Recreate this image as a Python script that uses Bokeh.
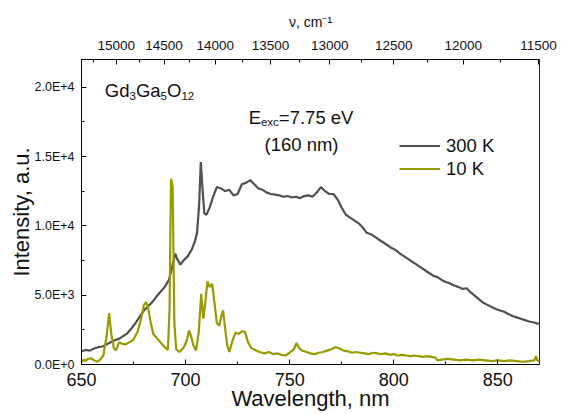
from bokeh.plotting import figure
from bokeh.models import (ColumnDataSource, LinearAxis, FixedTicker, CustomJSTickFormatter,
                          Label, Legend, LegendItem, Range1d)
from bokeh.embed import file_html
from bokeh.resources import INLINE

# ---------------- data ----------------
wl_300 = [650, 652, 654, 656, 658, 660, 662, 664, 666, 668, 670, 672, 674, 676, 678, 680,
          682, 684, 686, 688, 690, 692, 693.5, 695, 696, 697.5, 699, 701, 703, 704.5, 705.5,
          706.5, 707.3, 708.2, 709, 710, 711.5, 713, 715, 717, 719, 721, 723, 725, 727, 729,
          731, 733, 735, 737, 739, 741, 743, 745, 747, 749, 751, 753, 755, 757, 759, 761, 763,
          765, 767, 769, 771, 773, 775, 777, 779, 781, 783, 785, 787, 789, 791, 793, 795, 797,
          799, 801, 803, 805, 807, 809, 811, 813, 815, 817, 819, 821, 823, 825, 827, 829, 831,
          833, 835, 837, 839, 841, 843, 845, 847, 849, 851, 853, 855, 857, 859, 861, 863, 865,
          867, 869, 870]
int_300 = [950, 1050, 1000, 1150, 1250, 1300, 1450, 1600, 1750, 1850, 2050, 2250, 2600, 3000,
           3450, 3900, 4200, 4500, 4900, 5250, 5600, 6100, 7000, 8000, 7600, 7200, 7500, 7800,
           8300, 8900, 9500, 11500, 14600, 12500, 10900, 10800, 11300, 12000, 12800, 12700,
           12500, 12600, 12200, 12300, 13000, 13100, 13300, 13000, 12700, 12600, 12400, 12300,
           12250, 12200, 12100, 12150, 12050, 12100, 12000, 12150, 12200, 12100, 12400, 12800,
           12500, 12300, 12300, 11900, 11300, 10800, 10600, 10400, 10200, 9900, 9500, 9400,
           9200, 9000, 8800, 8600, 8400, 8250, 8000, 7800, 7600, 7400, 7200, 7000, 6800, 6600,
           6400, 6300, 6100, 5950, 5850, 5700, 5600, 5450, 5500, 5200, 4950, 4700, 4450, 4300,
           4150, 4000, 3900, 3800, 3650, 3500, 3400, 3300, 3200, 3100, 3050, 2950, 2950]

wl_10 = [650, 651, 652, 653, 654.5, 656, 657.7, 659, 660.5, 662, 663.3, 664.3, 665.5, 666.5,
         668, 669.5, 671, 673, 675, 677, 678.5, 680, 681, 682, 683, 684.5, 686.5, 688.5, 690,
         691.5, 692.3, 693, 693.8, 694.6, 695.5, 697, 699, 700.5, 701.7, 702.7, 703.7, 705,
         706.3, 707.5, 708.5, 709.5, 710.5, 711.5, 712.8, 714, 715, 716.2, 717.2, 718, 719,
         720, 721, 722.5, 724, 725.5, 727, 728.5, 730, 731.5, 733.5, 735.5, 738, 740, 742, 744,
         746, 748, 750, 752, 753.3, 754.5, 756, 758, 760, 762, 764, 766, 768, 770, 772, 774,
         776, 778, 780, 782, 784, 786, 788, 790, 792, 794, 796, 798, 800, 802, 804, 806, 808,
         810, 812, 814, 816, 818, 820, 821, 823, 826, 829, 832, 835, 838, 841, 844, 847, 850,
         853, 856, 859, 862, 865, 867.5, 868.3, 869, 870]
int_10 = [200, 350, 250, 400, 450, 300, 200, 350, 650, 2000, 3700, 2200, 1200, 1000, 1600,
          1500, 1450, 1600, 1800, 2400, 3200, 4300, 4500, 4100, 3200, 2200, 1850, 1500, 1250,
          1050, 4000, 13400, 12800, 3000, 1100, 900, 1200, 1700, 2450, 2000, 1400, 1000, 2300,
          5100, 3300, 4500, 6000, 5600, 5800, 4300, 3000, 2800, 3500, 3900, 2600, 1400, 900,
          1700, 2300, 2200, 2400, 2350, 1600, 1200, 1050, 900, 800, 900, 750, 800, 700, 650,
          850, 1100, 1550, 1200, 1000, 900, 800, 750, 850, 900, 1000, 1100, 1250, 1150, 1000,
          950, 850, 900, 850, 800, 750, 850, 800, 750, 800, 700, 750, 650, 700, 650, 600, 650,
          600, 550, 600, 550, 500, 300, 350, 400, 350, 300, 350, 300, 350, 300, 250, 300, 250,
          300, 250, 200, 250, 300, 600, 300, 250]

series_names = ["300 K", "10 K"]
series_colors = ["#505050", "#999900"]

x_ticks = [650, 700, 750, 800, 850]
x_minor = [675, 725, 775, 825]
y_ticks = [0, 5000, 10000, 15000, 20000]
y_minor = [2500, 7500, 12500, 17500]
wn_major = [15000, 14500, 14000, 13500, 13000, 12500, 12000, 11500]
wn_minor = [15250, 14750, 14250, 13750, 13250, 12750, 12250, 11750]

FONT = "Liberation Sans"
TXT = "#111111"

p = figure(width=562, height=414, x_range=Range1d(650, 870), y_range=Range1d(0, 22000),
           output_backend="svg", toolbar_location=None,
           min_border_left=81, min_border_right=23, min_border_top=59, min_border_bottom=50)
p.grid.visible = False
p.outline_line_color = "#222222"
p.outline_line_width = 1
p.background_fill_color = "white"
p.border_fill_color = "white"

src300 = ColumnDataSource(dict(x=wl_300, y=int_300))
src10 = ColumnDataSource(dict(x=wl_10, y=int_10))
r300 = p.line("x", "y", source=src300, line_color=series_colors[0], line_width=2.2)
r10 = p.line("x", "y", source=src10, line_color=series_colors[1], line_width=2.2)

def style_axis(ax, size, standoff, title, title_size, title_standoff):
    ax.major_tick_in = 5
    ax.major_tick_out = 0
    ax.minor_tick_in = 3
    ax.minor_tick_out = 0
    ax.axis_line_color = "black"
    ax.major_tick_line_color = "black"
    ax.minor_tick_line_color = "black"
    ax.major_label_text_font = FONT
    ax.major_label_text_font_size = size
    ax.major_label_text_color = TXT
    ax.major_label_standoff = standoff
    ax.axis_label = title
    ax.axis_label_text_font = FONT
    ax.axis_label_text_font_size = title_size
    ax.axis_label_text_font_style = "normal"
    ax.axis_label_text_color = TXT
    ax.axis_label_standoff = title_standoff

xa = p.xaxis[0]
xa.ticker = FixedTicker(ticks=x_ticks, minor_ticks=x_minor)
style_axis(xa, "18px", 8, "Wavelength, nm", "22px", -3)

ya = p.yaxis[0]
ya.ticker = FixedTicker(ticks=y_ticks, minor_ticks=y_minor)
ya.formatter = CustomJSTickFormatter(code="return tick.toExponential(1).replace('e', 'E');")
style_axis(ya, "12.5px", 7, "Intensity, a.u.", "22px", -2)

top = LinearAxis(ticker=FixedTicker(ticks=[1e7 / v for v in wn_major],
                                    minor_ticks=[1e7 / v for v in wn_minor]),
                 formatter=CustomJSTickFormatter(code="return Math.round(1e7 / tick).toString();"))
style_axis(top, "13.5px", 10, "\u03bd, cm\u207b\u00b9", "14px", 8)
p.add_layout(top, "above")

# annotations
F, f = "18.5px", "11.5px"
def piece(x, y, txt, dx, size, dy=0):
    p.add_layout(Label(x=x, y=y, text=txt, text_font=FONT, text_font_size=size,
                       text_baseline="alphabetic", text_align="left",
                       x_offset=dx, y_offset=dy, text_color=TXT))

gx, gy = 661.2, 19760
piece(gx, gy, "Gd", 0, F)
piece(gx, gy, "3", 24.7, f, -5)
piece(gx, gy, "Ga", 31.1, F)
piece(gx, gy, "5", 55.8, f, -5)
piece(gx, gy, "O", 62.2, F)
piece(gx, gy, "12", 76.6, f, -5)

ex, ey = 730.3, 17800
piece(ex, ey, "E", 0, F)
piece(ex, ey, "exc", 12.3, f, -4)
piece(ex, ey, "=7.75 eV", 30.2, F)
piece(737.9, 15900, "(160 nm)", 0, F)

legend = Legend(items=[LegendItem(label=series_names[0], renderers=[r300]),
                       LegendItem(label=series_names[1], renderers=[r10])],
                location=(318, 184), glyph_width=41, glyph_height=23, label_height=23,
                spacing=0, padding=0, margin=0, label_standoff=6,
                border_line_alpha=0, background_fill_alpha=0,
                label_text_font=FONT, label_text_font_size="18.5px",
                label_text_color=TXT)
p.add_layout(legend)

open("out.html", "w").write(file_html(p, INLINE))
